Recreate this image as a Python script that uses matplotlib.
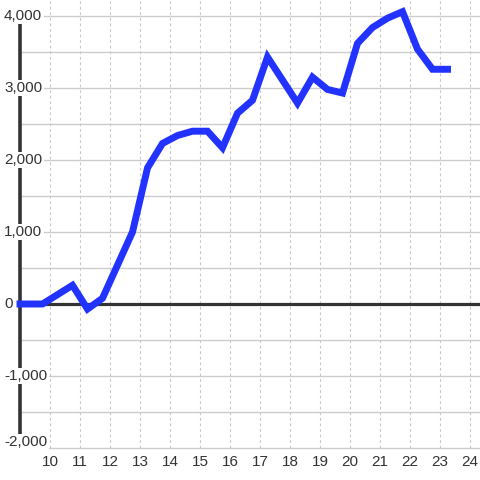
import matplotlib
matplotlib.use('Agg')
import matplotlib.pyplot as plt
from matplotlib.transforms import blended_transform_factory, offset_copy

# hours of day and cumulative value
hours = [9.0, 9.75, 10.25, 10.75, 11.25, 11.75, 12.25, 12.75, 13.25, 13.75,
         14.25, 14.75, 15.25, 15.75, 16.25, 16.75, 17.25, 17.75, 18.25, 18.75,
         19.25, 19.75, 20.25, 20.75, 21.25, 21.75, 22.25, 22.75, 23.25]
values = [0, 0, 130, 260, -70, 80, 540, 1000, 1890, 2230,
          2340, 2400, 2400, 2170, 2650, 2830, 3430, 3110, 2790, 3150,
          2980, 2930, 3620, 3840, 3970, 4060, 3540, 3260, 3260]
x_ticks = list(range(10, 25))
y_labels = [4000, 3000, 2000, 1000, 0, -1000, -2000]
y_grid = [v for v in range(-1500, 4001, 500)]

plt.rcParams['font.family'] = ['Liberation Sans', 'DejaVu Sans']

W, H = 480, 480
fig = plt.figure(figsize=(4.8, 4.8), dpi=100)
ax = fig.add_axes([20 / W, 32 / H, 460 / W, 448 / H])
ax.set_xlim(9.0, 9.0 + 460 / 30)
ax.set_ylim(-2000, 4000 + 16 / 72 * 1000)

for s in ['top', 'right', 'left']:
    ax.spines[s].set_visible(False)
ax.spines['bottom'].set_color('#cccccc')
ax.spines['bottom'].set_linewidth(1)

for v in y_grid:
    ax.axhline(v, color='#cccccc', lw=1, zorder=1)
for t in x_ticks:
    ax.axvline(t, color='#c8c8c8', lw=0.8, ls=(0, (2.5, 2.5)), zorder=1)

ax.axhline(0, color='#333333', lw=2.3, zorder=2)
ax.vlines(9.0, -2000, 4000, color='#333333', lw=2.6, zorder=2, clip_on=False)

ax.plot(hours, values, color='#2233ff', lw=5, zorder=5,
        solid_capstyle='projecting', solid_joinstyle='miter', clip_on=False)

ax.set_xticks(x_ticks)
ax.set_xticklabels([str(t) for t in x_ticks])
ax.tick_params(axis='x', length=0, pad=5, labelsize=11, labelcolor='#333333')
ax.set_yticks([])

trans = blended_transform_factory(fig.transFigure, ax.transData)
for v in y_labels:
    lab = f'{v:,}'
    tr = trans
    if v == min(y_labels):
        # keep the lowest label clear of the bottom axis
        tr = offset_copy(trans, fig=fig, y=6, units='dots')
    ax.text(4 / W, v, lab, transform=tr, ha='left', va='center',
            fontsize=11, color='#333333', zorder=6,
            bbox=dict(facecolor='white', edgecolor='none', pad=1))

fig.savefig('out.png', dpi=100)
